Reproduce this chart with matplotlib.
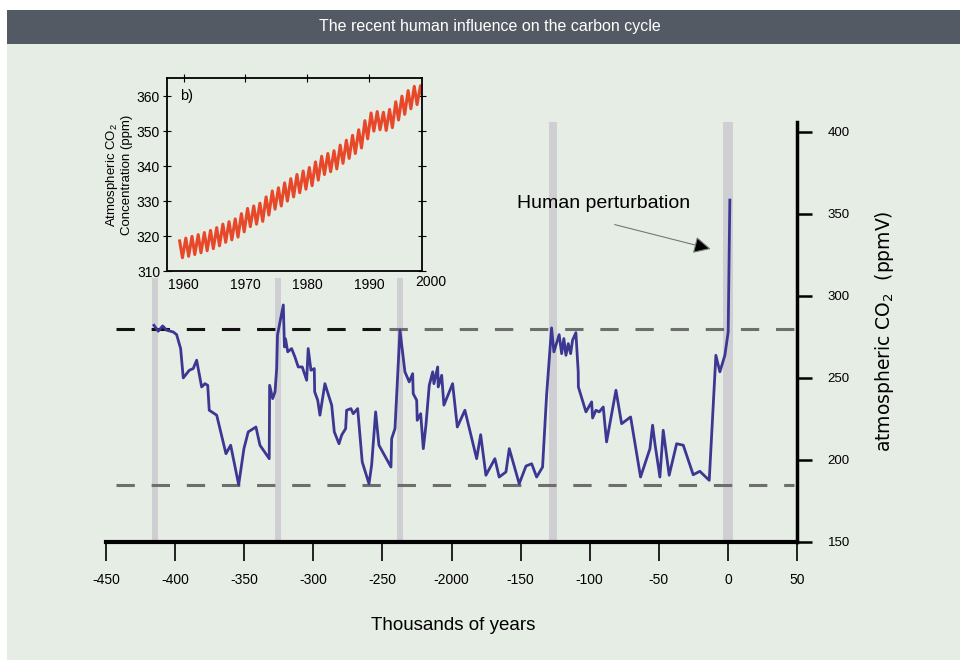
import matplotlib
matplotlib.use("Agg")
import matplotlib.pyplot as plt
from matplotlib.patches import Rectangle, FancyArrowPatch

plt.rcParams['font.family'] = ['Liberation Sans', 'DejaVu Sans']
plt.rcParams['mathtext.default'] = 'regular'

# Vostok record: age (thousands of years, negative = past) and CO2 (ppmV)
age_kyr = [-415.3, -412.2, -409.0, -406.1, -401.3, -398.9, -396.0, -394.1, -389.7, -386.9,
           -384.4, -380.8, -378.4, -376.4, -375.3, -369.9, -363.2, -359.8, -354.0, -350.2,
           -347.1, -341.5, -338.6, -331.9, -331.6, -329.4, -327.7, -326.5, -325.9, -321.7,
           -320.9, -320.1, -318.5, -315.7, -313.3, -310.9, -308.0, -304.8, -303.7, -301.7,
           -299.3, -299.0, -296.8, -295.2, -291.6, -286.7, -284.8, -281.4, -279.5, -276.6,
           -275.9, -272.8, -271.1, -267.9, -264.6, -259.7, -257.8, -254.9, -252.5, -243.8,
           -243.3, -240.9, -237.3, -233.7, -230.6, -228.1, -227.7, -225.2, -224.8, -222.3,
           -220.4, -218.5, -216.1, -213.6, -212.7, -210.0, -209.6, -207.1, -205.5, -199.2,
           -195.8, -190.3, -181.8, -178.9, -175.1, -168.6, -165.5, -160.6, -158.2, -151.0,
           -146.1, -142.0, -138.4, -134.1, -131.2, -127.6, -125.9, -122.1, -120.3, -118.7,
           -117.2, -115.5, -113.8, -112.4, -110.0, -108.3, -108.2, -102.7, -98.6, -97.9,
           -95.5, -93.1, -90.2, -87.8, -81.0, -76.9, -70.4, -63.2, -56.4, -54.5,
           -52.8, -49.2, -46.8, -42.5, -37.1, -32.3, -25.1, -20.3, -13.5, -8.7,
           -5.8, -2.2, 0.2, 1.4]
co2_ppmv = [282.1, 278.5, 281.7, 279.1, 278.0, 276.4, 267.9, 250.0, 254.7, 255.7,
            260.8, 244.5, 246.5, 245.5, 230.3, 227.3, 203.8, 209.0, 184.9, 206.9,
            217.1, 220.1, 209.0, 200.8, 245.5, 237.4, 241.5, 255.7, 276.2, 294.5,
            268.9, 273.8, 265.9, 267.9, 262.8, 256.7, 256.7, 248.6, 267.9, 254.7,
            255.7, 241.5, 236.4, 227.3, 246.5, 233.4, 217.1, 209.9, 215.1, 219.1,
            230.3, 231.3, 228.2, 231.3, 198.8, 185.5, 196.8, 229.3, 209.0, 195.7,
            213.0, 219.1, 279.1, 253.7, 247.6, 252.6, 240.4, 236.4, 224.2, 228.2,
            206.9, 221.2, 245.5, 253.7, 246.5, 256.7, 244.5, 251.6, 233.4, 246.5,
            220.1, 230.3, 200.8, 215.4, 190.7, 200.8, 189.6, 192.7, 206.9, 185.5,
            196.3, 197.7, 189.6, 195.7, 239.5, 280.5, 265.9, 276.4, 264.8, 274.0,
            263.8, 270.9, 264.8, 273.0, 277.6, 253.7, 244.5, 229.3, 235.4, 225.6,
            230.3, 229.3, 232.3, 211.0, 242.5, 222.1, 226.2, 189.6, 206.9, 221.2,
            209.9, 189.6, 218.1, 190.7, 209.9, 209.0, 191.0, 193.1, 187.6, 263.8,
            253.7, 263.8, 278.0, 358.4]

interglacial_kyr = [-414.6, -325.6, -237.3, -126.6, 0.0]
interglacial_ppmv = 280
glacial_ppmv = 185

x_ticks = [-450, -400, -350, -300, -250, -200, -150, -100, -50, 0, 50]
x_tick_labels = ['-450', '-400', '-350', '-300', '-250', '-2000', '-150', '-100', '-50', '0', '50']
y_ticks = [150, 200, 250, 300, 350, 400]

# Mauna Loa inset: seasonal highs and lows per year
ml_years = list(range(1959, 1999))
ml_peaks = [318.6, 319.4, 319.9, 320.4, 321.0, 321.6, 322.4, 323.4, 324.1, 324.9,
            326.4, 327.9, 328.6, 329.4, 331.2, 332.9, 333.8, 335.2, 336.4, 337.6,
            338.6, 339.6, 341.2, 342.8, 343.6, 344.4, 346.0, 347.4, 348.8, 350.4,
            353.0, 355.2, 355.6, 355.4, 356.2, 358.4, 360.0, 361.6, 362.8, 363.0]
ml_troughs = [313.8, 314.2, 314.7, 315.2, 315.8, 316.4, 317.2, 318.2, 318.9, 319.7,
              321.2, 322.7, 323.4, 324.2, 326.0, 327.7, 328.6, 330.0, 331.2, 332.4,
              333.4, 334.4, 336.0, 337.6, 338.4, 339.2, 340.8, 342.2, 343.6, 345.2,
              347.8, 350.0, 350.4, 350.2, 351.0, 353.2, 354.8, 356.4, 357.6, 359.0]
inset_x_ticks = [1960, 1970, 1980, 1990]
inset_y_ticks = [310, 320, 330, 340, 350, 360]

BG = '#e6ede5'
W, H = 960, 661

fig = plt.figure(figsize=(9.6, 6.61), dpi=100, facecolor='white')
fig.add_artist(Rectangle((7 / W, 1 / H), 1 - 7 / W, (661 - 44) / H, transform=fig.transFigure,
                         facecolor=BG, edgecolor='none', zorder=-10))
fig.add_artist(Rectangle((7 / W, 1 - 44 / H), 1 - 7 / W, 34 / H, transform=fig.transFigure,
                         facecolor='#545a63', edgecolor='none', zorder=-9))
fig.text(490 / W, 1 - 27 / H, 'The recent human influence on the carbon cycle',
         color='white', fontsize=11.5, ha='center', va='center')

# main chart
ax = fig.add_axes([106 / W, (661 - 542) / H, (797 - 106) / W, (542 - 122) / H])
ax.set_facecolor('none')
ax.set_xlim(-450, 50)
ax.set_ylim(150, 406)

for c, w in zip(interglacial_kyr, [3.8, 3.8, 3.8, 6.0, 6.8]):
    ax.axvspan(c - w / 2, c + w / 2, color='#cfcfd3', lw=0, zorder=0.5)

ax.plot([-443, -245], [interglacial_ppmv] * 2, color='#111111', lw=2.2, dashes=(6, 5.5), zorder=1)
ax.plot([-245, 48], [interglacial_ppmv] * 2, color='#6e6e6e', lw=2.2, dashes=(6, 5.5), zorder=1)
ax.plot([-443, 48], [glacial_ppmv] * 2, color='#6e6e6e', lw=2.2, dashes=(6, 5.5), zorder=1)

ax.plot(age_kyr, co2_ppmv, color='#3c3792', lw=2, zorder=3)

for s in ['left', 'top']:
    ax.spines[s].set_visible(False)
ax.spines['bottom'].set_linewidth(3)
ax.spines['right'].set_linewidth(2.5)
ax.yaxis.tick_right()
ax.set_xticks(x_ticks)
ax.set_xticklabels(x_tick_labels)
ax.set_yticks(y_ticks)
ax.tick_params(axis='x', direction='out', length=14, width=1.2, pad=8, labelsize=10)
ax.tick_params(axis='y', direction='out', length=11, width=1.8, pad=11, labelsize=9.5)

fig.text(453 / W, 1 - 625 / H, 'Thousands of years', fontsize=13.5, ha='center', va='center')
fig.text(884 / W, 1 - 331 / H, 'atmospheric CO$_2$  (ppmV)', fontsize=13.5, rotation=90,
         ha='center', va='center', family='DejaVu Sans')

ax.text(-152.7, 356.1, 'Human perturbation', fontsize=14, ha='left', va='center')
ax.add_patch(FancyArrowPatch((-83.9, 343.9), (-10.5, 328.2), arrowstyle='-|>',
                             mutation_scale=26, lw=0.8, ec='#777777', fc='black', zorder=4))

# inset
ins = fig.add_axes([167 / W, (661 - 271) / H, 255 / W, 193 / H])
ins.set_facecolor(BG)
ins.add_patch(Rectangle((95 / W, 1 - 278 / H), 340 / W, 212 / H, transform=fig.transFigure,
                        facecolor=BG, edgecolor='none', clip_on=False, zorder=-1))
ml_x, ml_y = [], []
for yr, p, t in zip(ml_years, ml_peaks, ml_troughs):
    ml_x += [yr + 0.35, yr + 0.8]
    ml_y += [p, t]
ins.plot(ml_x, ml_y, color='#e8482a', lw=2.2)
ins.set_xlim(1957.3, 1998.6)
ins.set_ylim(310, 365.2)
ins.set_xticks(inset_x_ticks)
ins.set_yticks(inset_y_ticks)
ins.tick_params(axis='x', bottom=False, top=True, direction='inout', length=6, labelsize=10, pad=2)
ins.tick_params(axis='y', left=True, right=True, direction='inout', length=6, labelsize=10, pad=2)
ins.text(2000, 310 - 1.2, '2000', fontsize=10, ha='center', va='top', clip_on=False)
for s in ins.spines.values():
    s.set_linewidth(1.3)
ins.text(1959.4, 360, 'b)', fontsize=10.5, ha='left', va='center')
ins.set_ylabel('Atmospheric CO$_2$\nConcentration (ppm)', fontsize=9.5, labelpad=3, linespacing=1.1)

fig.savefig('out.png', dpi=100, facecolor='white')
